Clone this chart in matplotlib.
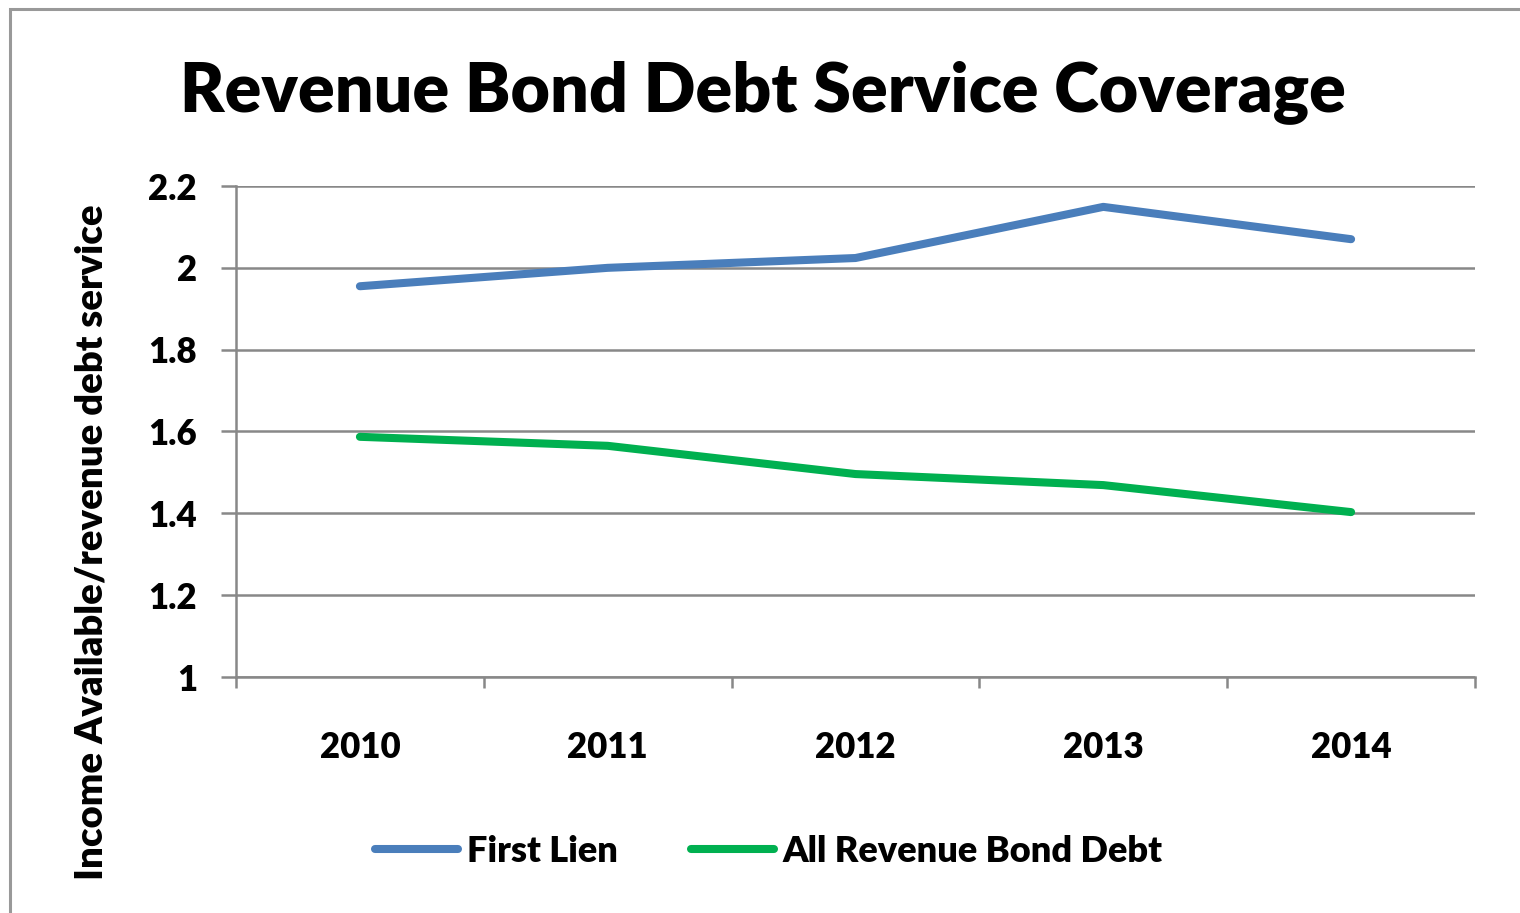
import numpy as np
import matplotlib as mpl
mpl.use('Agg')
from matplotlib import pyplot as plt
from matplotlib.patches import Rectangle

years = ['2010', '2011', '2012', '2013', '2014']
first_lien = [1.955, 2.00, 2.024, 2.149, 2.07]
all_revenue = [1.587, 1.565, 1.496, 1.469, 1.403]
y_ticks = [1, 1.2, 1.4, 1.6, 1.8, 2, 2.2]
y_tick_labels = ['1', '1.2', '1.4', '1.6', '1.8', '2', '2.2']

plt.rcParams['font.family'] = ['Lato', 'DejaVu Sans']
plt.rcParams['font.weight'] = 'heavy'

W, H = 1520, 913
fig = plt.figure(figsize=(W / 100, H / 100), dpi=100)
ax = fig.add_axes([236 / W, 1 - 677 / H, (1475 - 236) / W, (677 - 186) / H])

grid_col = '#888888'
x = np.arange(len(years))
ax.plot(x, first_lien, color='#4a7ebb', lw=5.8, solid_capstyle='round',
        solid_joinstyle='round', label='First Lien', zorder=3)
ax.plot(x, all_revenue, color='#00b050', lw=5.8, solid_capstyle='round',
        solid_joinstyle='round', label='All Revenue Bond Debt', zorder=3)

ax.set_xlim(-0.5, len(years) - 0.5)
ax.set_ylim(1, 2.2)
ax.set_yticks(y_ticks)
ax.set_yticklabels(y_tick_labels)
ax.set_xticks(x)
ax.set_xticklabels(years)
ax.set_xticks(np.arange(len(years) + 1) - 0.5, minor=True)

ax.grid(axis='y', color=grid_col, lw=1.8)
ax.set_axisbelow(True)
for s in ['top', 'right']:
    ax.spines[s].set_visible(False)
for s in ['left', 'bottom']:
    ax.spines[s].set_color(grid_col)
    ax.spines[s].set_linewidth(1.8)

ax.tick_params(axis='y', length=11, width=1.8, color=grid_col, pad=17,
               labelsize=25)
ax.tick_params(axis='x', which='major', length=0, pad=39, labelsize=25)
ax.tick_params(axis='x', which='minor', length=8, width=1.8, color=grid_col)

fig.text(763 / W, 1 - 92 / H, 'Revenue Bond Debt Service Coverage',
         ha='center', va='center', fontsize=49, fontweight='heavy')
fig.text(92 / W, 1 - 542 / H, 'Income Available/revenue debt service',
         ha='center', va='center', rotation=90, fontsize=27.5, fontweight='heavy')

fig.legend(loc='center', bbox_to_anchor=(769 / W, 1 - 851 / H), ncol=2,
           frameon=False, fontsize=26, handlelength=2.3, handletextpad=0.25,
           columnspacing=2.0)

fig.add_artist(Rectangle((10 / W, -0.1), 1.2, 1.1 - 9 / H, transform=fig.transFigure,
                         fill=False, edgecolor='#999999', lw=2.2))

fig.savefig('out.png', dpi=100)
